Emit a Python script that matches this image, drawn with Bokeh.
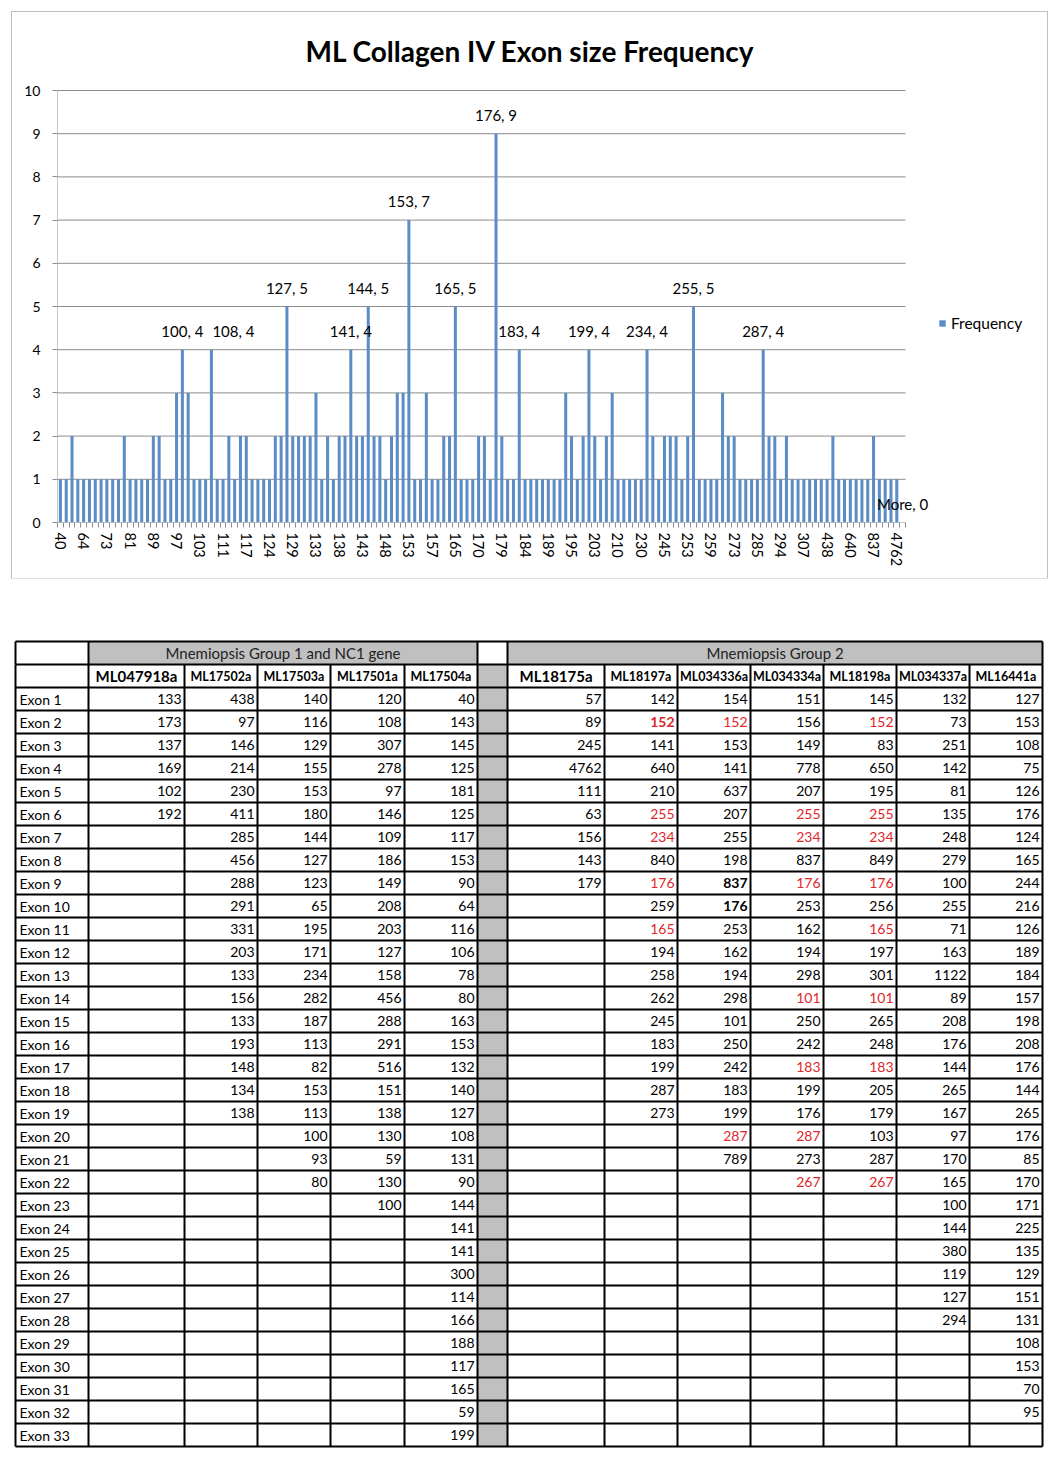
from bokeh.plotting import figure
from bokeh.models import (Range1d, FixedTicker, Label, LabelSet, Legend, LegendItem,
                          ColumnDataSource)
from bokeh.layouts import column
from bokeh.embed import file_html
from bokeh.resources import INLINE
from bokeh.core.properties import value

FONT = "Lato"
BLUE = "#5B8CC6"
GRID = "#8C8C8C"
RED = "#E0262B"

# ---------------- histogram data ----------------
bins = ["40", "57", "59", "63", "64", "65", "70", "71", "73", "75", "78", "80", "81", "82", "83",
        "85", "89", "90", "93", "95", "97", "100", "101", "102", "103", "106", "108", "109", "111",
        "113", "114", "116", "117", "119", "120", "123", "124", "125", "126", "127", "129", "130",
        "131", "132", "133", "134", "135", "137", "138", "140", "141", "142", "143", "144", "145",
        "146", "148", "149", "151", "152", "153", "154", "155", "156", "157", "158", "162", "163",
        "165", "166", "167", "169", "170", "171", "173", "176", "179", "180", "181", "183", "184",
        "186", "187", "188", "189", "192", "193", "194", "195", "197", "198", "199", "203", "205",
        "207", "208", "210", "214", "216", "225", "230", "234", "242", "244", "245", "248", "250",
        "251", "253", "255", "256", "258", "259", "262", "265", "267", "273", "278", "279", "282",
        "285", "287", "288", "291", "294", "298", "300", "301", "307", "331", "380", "411", "438",
        "456", "516", "637", "640", "650", "778", "789", "837", "840", "849", "1122", "4762", "More"]
counts = [1, 1, 2, 1, 1, 1, 1, 1, 1, 1, 1, 2, 1, 1, 1,
          1, 2, 2, 1, 1, 3, 4, 3, 1, 1, 1, 4, 1, 1,
          2, 1, 2, 2, 1, 1, 1, 1, 2, 2, 5, 2, 2,
          2, 2, 3, 1, 2, 1, 2, 2, 4, 2, 2, 5, 2,
          2, 1, 2, 3, 3, 7, 1, 1, 3, 1, 1, 2, 2,
          5, 1, 1, 1, 2, 2, 1, 9, 2, 1, 1, 4, 1,
          1, 1, 1, 1, 1, 1, 3, 2, 1, 2, 4, 2, 1,
          2, 3, 1, 1, 1, 1, 1, 4, 2, 1, 2, 2, 2,
          1, 2, 5, 1, 1, 1, 1, 3, 2, 2, 1, 1, 1,
          1, 4, 2, 2, 1, 2, 1, 1, 1, 1, 1, 1, 1,
          2, 1, 1, 1, 1, 1, 1, 2, 1, 1, 1, 1, 0]
labelled_bins = ["100", "108", "127", "141", "144", "153", "165", "176", "183", "199",
                 "234", "255", "287", "More"]
y_ticks = [0, 1, 2, 3, 4, 5, 6, 7, 8, 9, 10]
chart_title = "ML Collagen IV Exon size Frequency"
series_name = "Frequency"

# ---------------- table data ----------------
group1_title = "Mnemiopsis Group 1 and NC1 gene"
group2_title = "Mnemiopsis Group 2"
ML047918a = [133, 173, 137, 169, 102, 192]
ML17502a = [438, 97, 146, 214, 230, 411, 285, 456, 288, 291, 331, 203, 133, 156, 133, 193, 148, 134, 138]
ML17503a = [140, 116, 129, 155, 153, 180, 144, 127, 123, 65, 195, 171, 234, 282, 187, 113, 82, 153,
             113, 100, 93, 80]
ML17501a = [120, 108, 307, 278, 97, 146, 109, 186, 149, 208, 203, 127, 158, 456, 288, 291, 516, 151,
            138, 130, 59, 130, 100]
ML17504a = [40, 143, 145, 125, 181, 125, 117, 153, 90, 64, 116, 106, 78, 80, 163, 153, 132, 140, 127,
            108, 131, 90, 144, 141, 141, 300, 114, 166, 188, 117, 165, 59, 199]
ML18175a = [57, 89, 245, 4762, 111, 63, 156, 143, 179]
ML18197a = [142, 152, 141, 640, 210, 255, 234, 840, 176, 259, 165, 194, 258, 262, 245, 183, 199, 287, 273]
ML034336a = [154, 152, 153, 141, 637, 207, 255, 198, 837, 176, 253, 162, 194, 298, 101, 250, 242, 183,
             199, 287, 789]
ML034334a = [151, 156, 149, 778, 207, 255, 234, 837, 176, 253, 162, 194, 298, 101, 250, 242, 183, 199,
             176, 287, 273, 267]
ML18198a = [145, 152, 83, 650, 195, 255, 234, 849, 176, 256, 165, 197, 301, 101, 265, 248, 183, 205,
            179, 103, 287, 267]
ML034337a = [132, 73, 251, 142, 81, 135, 248, 279, 100, 255, 71, 163, 1122, 89, 208, 176, 144, 265, 167,
             97, 170, 165, 100, 144, 380, 119, 127, 294]
ML16441a = [127, 153, 108, 75, 126, 176, 124, 165, 244, 216, 126, 189, 184, 157, 198, 208, 176, 144, 265,
            176, 85, 170, 171, 225, 135, 129, 151, 131, 108, 153, 70, 95]
exon_names = ["Exon %d" % i for i in range(1, 34)]
group1 = [("ML047918a", ML047918a), ("ML17502a", ML17502a), ("ML17503a", ML17503a),
          ("ML17501a", ML17501a), ("ML17504a", ML17504a)]
group2 = [("ML18175a", ML18175a), ("ML18197a", ML18197a), ("ML034336a", ML034336a),
          ("ML034334a", ML034334a), ("ML18198a", ML18198a), ("ML034337a", ML034337a),
          ("ML16441a", ML16441a)]
# exon numbers shown in red / bold
red_exons = {"ML18197a": [2, 6, 7, 9, 11], "ML034336a": [2, 20],
             "ML034334a": [6, 7, 9, 14, 17, 20, 22], "ML18198a": [2, 6, 7, 9, 11, 14, 17, 22]}
bold_exons = {"ML18197a": [2], "ML034336a": [9, 10]}

# ======================= CHART =======================
# layout (pixels): chart box at page (12,12)-(1047,578); bars' plot area 57..905 x 90..522
CW, CH = 1035, 566
ORG = 12
FR_L, FR_R, FR_T, FR_B = 57, 1035, 25, 522       # frame edges on the page
BAR_R, AX_T = 905, 90                           # right end of category axis, top of value axis
n = len(bins)
xs = list(range(n))
px_cat = (BAR_R - FR_L) / n
px_unit = (FR_B - AX_T) / 10.0
x_end = -0.5 + (FR_R - FR_L) / px_cat
y_end = (FR_B - FR_T) / px_unit

p = figure(width=CW, height=CH, output_backend="svg", toolbar_location=None,
           x_range=Range1d(-0.5, x_end), y_range=Range1d(0, y_end),
           min_border_left=FR_L - ORG, min_border_right=ORG + CW - FR_R,
           min_border_top=FR_T - ORG, min_border_bottom=ORG + CH - FR_B)
p.frame_align = False
p.margin = (ORG, 0, 0, ORG)
p.styles = {"outline": "1px solid #BEBEBE"}
p.outline_line_color = None
p.background_fill_color = "white"
p.border_fill_color = "white"
p.xgrid.visible = False
p.ygrid.visible = False

# gridlines and value-axis line (limited to the category span)
p.segment(x0=[-0.5] * len(y_ticks), x1=[n - 0.5] * len(y_ticks), y0=y_ticks, y1=y_ticks,
          line_color=GRID, line_width=1)
p.segment(x0=[-0.5], x1=[-0.5], y0=[0], y1=[y_ticks[-1]], line_color=GRID, line_width=1)

src = ColumnDataSource(dict(x=xs, top=counts, bin=bins))
bars = p.vbar(x="x", top="top", width=0.52, source=src, fill_color=BLUE, line_color=None)

xa = p.xaxis[0]
xa.ticker = FixedTicker(ticks=xs[::4], minor_ticks=[i - 0.5 for i in range(n + 1)])
xa.major_label_overrides = {i: bins[i] for i in xs[::4]}
xa.major_label_orientation = "vertical"
xa.major_tick_out = 0
xa.major_tick_in = 0
xa.minor_tick_out = 5
xa.minor_tick_in = 0
xa.minor_tick_line_color = GRID
xa.axis_line_color = None
xa.major_label_text_font = FONT
xa.major_label_text_font_size = "14.5px"
xa.major_label_text_color = "black"
xa.major_label_standoff = 5

ya = p.yaxis[0]
ya.ticker = FixedTicker(ticks=y_ticks)
ya.major_tick_out = 5
ya.major_tick_in = 0
ya.minor_tick_out = 0
ya.minor_tick_in = 0
ya.major_tick_line_color = GRID
ya.axis_line_color = None
ya.major_label_text_font = FONT
ya.major_label_text_font_size = "14px"
ya.major_label_text_color = "black"
ya.major_label_standoff = 12

lab_idx = [bins.index(b) for b in labelled_bins]
lab_dx = [22 if b == "108" else 0 for b in labelled_bins]   # label nudged right in the original
lab_src = ColumnDataSource(dict(x=lab_idx, y=[counts[i] for i in lab_idx], dx=lab_dx,
                                text=["%s, %d" % (bins[i], counts[i]) for i in lab_idx]))
p.add_layout(LabelSet(x="x", y="y", text="text", source=lab_src, x_offset="dx", y_offset=19,
                      text_align="center", text_baseline="middle",
                      text_font=value(FONT), text_font_size="15px", text_color="black"))

p.add_layout(Label(x=-0.5 + (530 - FR_L) / px_cat, y=10 + (AX_T - 50) / px_unit, text=chart_title,
                   text_align="center", text_baseline="middle", text_font=FONT,
                   text_font_size="28px", text_font_style="bold", text_color="black"))

legend = Legend(items=[LegendItem(label=series_name, renderers=[bars])],
                location=(938 - FR_L, FR_B - 332),
                padding=0, margin=0, spacing=0, glyph_width=8, glyph_height=8,
                label_standoff=5, label_height=14, label_text_font=FONT,
                label_text_font_size="15.5px", label_text_color="black",
                border_line_color=None, background_fill_alpha=0)
p.add_layout(legend)

# ======================= TABLE =======================
TW, TH = 1052, 880
T_LEFT, T_TOP, ROW_H = 15, 641 - (ORG + CH), 23
COL_W = [73, 96, 73, 73, 74, 73, 30, 97, 73, 73, 73, 73, 73, 73]
edges = [T_LEFT]
for w in COL_W:
    edges.append(edges[-1] + w)
n_rows = 2 + len(exon_names)
bottom = T_TOP + n_rows * ROW_H


def rmid(r):
    return T_TOP + (r + 0.5) * ROW_H


t = figure(width=TW, height=TH, output_backend="svg", toolbar_location=None,
           x_range=Range1d(0, TW), y_range=Range1d(TH, 0), min_border=0,
           min_border_left=0, min_border_right=0, min_border_top=0, min_border_bottom=0,
           x_axis_location=None, y_axis_location=None)
t.frame_align = False
t.xgrid.visible = False
t.ygrid.visible = False
t.outline_line_color = None
t.background_fill_color = "white"
t.border_fill_color = "white"

GRAY = "#C0C0C0"
t.quad(left=[edges[1], edges[7], edges[6]], right=[edges[6], edges[14], edges[7]],
       top=[T_TOP, T_TOP, T_TOP + ROW_H], bottom=[T_TOP + ROW_H, T_TOP + ROW_H, bottom],
       fill_color=GRAY, line_color=None)

hx0, hx1, hy0, hy1 = [], [], [], []
for r in range(n_rows + 1):
    y = T_TOP + r * ROW_H
    hx0.append(edges[0]); hx1.append(edges[-1]); hy0.append(y); hy1.append(y)
for e in [0, 1, 6, 7, 14]:
    hx0.append(edges[e]); hx1.append(edges[e]); hy0.append(T_TOP); hy1.append(T_TOP + ROW_H)
for e in range(15):
    hx0.append(edges[e]); hx1.append(edges[e]); hy0.append(T_TOP + ROW_H); hy1.append(bottom)
t.segment(x0=hx0, y0=hy0, x1=hx1, y1=hy1, line_color="black", line_width=2)

t.text(x=[(edges[1] + edges[6]) / 2, (edges[7] + edges[14]) / 2], y=[rmid(0), rmid(0)],
       text=[group1_title, group2_title], text_align="center", text_baseline="middle",
       text_font=value(FONT), text_font_size="15px", text_color="#222222")

cols = [(1 + i, nm, vals) for i, (nm, vals) in enumerate(group1)] + \
       [(7 + i, nm, vals) for i, (nm, vals) in enumerate(group2)]
big_x, big_t, sm_x, sm_t = [], [], [], []
for c, nm, vals in cols:
    xc = (edges[c] + edges[c + 1]) / 2
    if c in (1, 7):
        big_x.append(xc); big_t.append(nm)
    else:
        sm_x.append(xc); sm_t.append(nm)
t.text(x=big_x, y=[rmid(1)] * len(big_x), text=big_t, text_align="center", text_baseline="middle",
       text_font=value(FONT), text_font_size="15px", text_font_style="bold", text_color="black")
t.text(x=sm_x, y=[rmid(1)] * len(sm_x), text=sm_t, text_align="center", text_baseline="middle",
       text_font=value(FONT), text_font_size="12.5px", text_font_style="bold", text_color="black")

t.text(x=[edges[0] + 4] * len(exon_names), y=[rmid(2 + k) for k in range(len(exon_names))],
       text=exon_names, text_align="left", text_baseline="middle",
       text_font=value(FONT), text_font_size="14px", text_color="black")

norm = dict(x=[], y=[], text=[], color=[])
bold = dict(x=[], y=[], text=[], color=[])
for c, nm, vals in cols:
    for k, v in enumerate(vals):
        ex = k + 1
        d = bold if ex in bold_exons.get(nm, []) else norm
        d["x"].append(edges[c + 1] - 3)
        d["y"].append(rmid(2 + k))
        d["text"].append(str(v))
        d["color"].append(RED if ex in red_exons.get(nm, []) else "black")
t.text(x="x", y="y", text="text", text_color="color", source=ColumnDataSource(norm),
       text_align="right", text_baseline="middle", text_font=value(FONT), text_font_size="14px")
t.text(x="x", y="y", text="text", text_color="color", source=ColumnDataSource(bold),
       text_align="right", text_baseline="middle", text_font=value(FONT), text_font_size="14px",
       text_font_style="bold")

layout = column(p, t, spacing=0)
open("out.html", "w").write(file_html(layout, INLINE))
